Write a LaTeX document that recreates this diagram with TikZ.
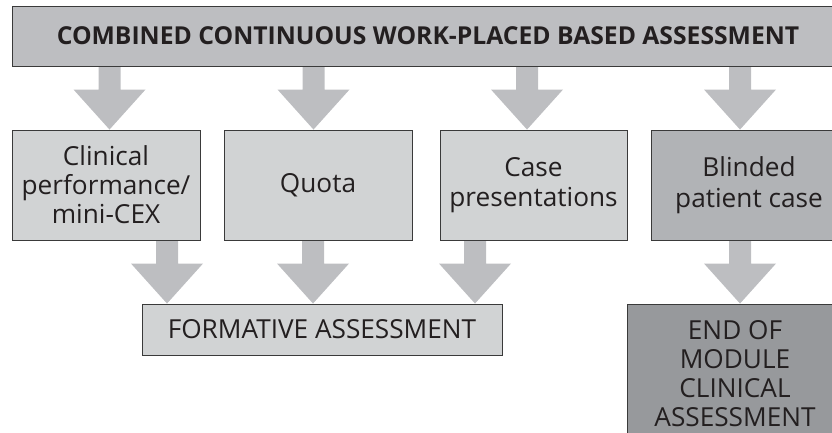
\documentclass[tikz,border=0pt]{standalone}
\usepackage{fontspec}
\setmainfont{Open Sans}
\usetikzlibrary{backgrounds,calc}
\definecolor{barc}{HTML}{BDBEC1}
\definecolor{arrc}{HTML}{BDBEC1}
\definecolor{boxc}{HTML}{D1D3D4}
\definecolor{blindc}{HTML}{B1B3B6}
\definecolor{endc}{HTML}{97999C}
\definecolor{linec}{HTML}{3A3A3A}
\definecolor{txtc}{HTML}{231F20}
\tikzset{
  stepbox/.style={draw=linec, line width=0.9pt, rectangle, inner sep=0pt,
    align=center, text=txtc, font=\fontsize{26.2}{29}\selectfont},
  arrowfill/.style={fill=arrc}
}
\newcommand{\barrow}[3]{%
  \fill[arrowfill] let \p1=(#2.south), \p2=(#3.north) in
    (#1pt-11pt,\y1) -- (#1pt+11pt,\y1) -- (#1pt+11pt,\y2+40pt) --
    (#1pt+36pt,\y2+40pt) -- (#1pt,\y2) -- (#1pt-36pt,\y2+40pt) --
    (#1pt-11pt,\y2+40pt) -- cycle;}
\begin{document}
\begin{tikzpicture}[x=1pt,y=-1pt]
\useasboundingbox (0,0) rectangle (832,432);
\clip (0,0) rectangle (832,432);
\node[stepbox, fill=barc, minimum width=832pt, minimum height=60pt,
  font=\fontsize{24.7}{28}\selectfont\bfseries] (title) at (428,36)
  {COMBINED CONTINUOUS WORK-PLACED BASED ASSESSMENT};
\node[stepbox, fill=boxc, minimum width=188pt, minimum height=110pt] (clin) at (106,185)
  {Clinical\\performance/\\mini-CEX};
\node[stepbox, fill=boxc, minimum width=188pt, minimum height=110pt] (quota) at (318,185)
  {Quota};
\node[stepbox, fill=boxc, minimum width=187pt, minimum height=110pt,
  font=\fontsize{26.2}{30.5}\selectfont] (case) at (533.5,185)
  {Case\\presentations};
\node[stepbox, fill=blindc, minimum width=196pt, minimum height=110pt,
  font=\fontsize{26.2}{30.5}\selectfont] (blind) at (749,185)
  {Blinded\\patient case};
\node[stepbox, fill=boxc, minimum width=360pt, minimum height=51pt] (form) at (322,329.5)
  {FORMATIVE ASSESSMENT};
\node[stepbox, fill=endc, minimum width=216pt, minimum height=140pt,
  font=\fontsize{26.2}{29}\selectfont] (endb) at (735,374)
  {END OF\\MODULE\\CLINICAL\\ASSESSMENT};
\begin{pgfonlayer}{background}
\barrow{109.5}{title}{clin}
\barrow{313.5}{title}{quota}
\barrow{527}{title}{case}
\barrow{740}{title}{blind}
\barrow{167}{clin}{form}
\barrow{313}{quota}{form}
\barrow{475}{case}{form}
\barrow{740}{blind}{endb}
\end{pgfonlayer}
\end{tikzpicture}
\end{document}
